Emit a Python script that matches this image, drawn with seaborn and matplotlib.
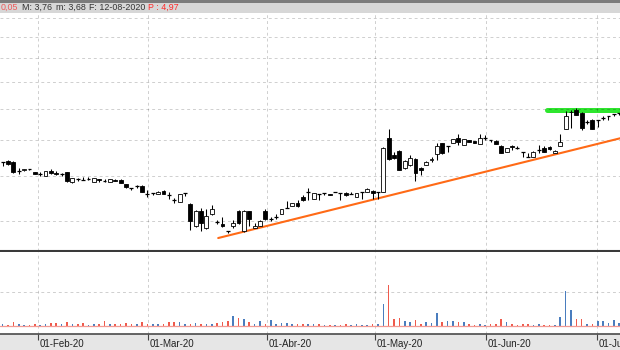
import numpy as np
import matplotlib
matplotlib.use("Agg")
import matplotlib.pyplot as plt
import seaborn as sns

# ---------------- data ----------------
opens = [2.68, 2.70, 2.68, 2.57, 2.575, 2.585, 2.545, 2.53, 2.505, 2.565,
         2.535, 2.52, 2.545, 2.425, 2.462, 2.453, 2.46, 2.432, 2.466, 2.445,
         2.432, 2.453, 2.453, 2.40, 2.354, 2.384, 2.381, 2.288, 2.295, 2.288,
         2.322, 2.277, 2.213, 2.196, 2.297, 2.174, 1.944, 2.095, 1.928, 2.071,
         1.987, 1.967, 1.905, 1.951, 2.102, 1.897, 2.095, 1.928, 1.951, 2.105,
         2.017, 2.033, 2.068, 2.13, 2.155, 2.185, 2.257, 2.311, 2.232, 2.288,
         2.295, 2.282, 2.307, 2.303, 2.303, 2.288, 2.257, 2.307, 2.307, 2.326,
         2.314, 2.314, 3.02, 2.779, 2.839, 2.60, 2.644, 2.72, 2.598, 2.644,
         2.703, 2.789, 2.946, 2.906, 2.955, 3.03, 2.921, 2.994, 2.98, 2.931,
         3.02, 2.994, 2.98, 2.906, 2.817, 2.906, 2.882, 2.825, 2.755, 2.747,
         2.849, 2.873, 2.896, 2.803, 2.91, 3.158, 3.44, 3.477, 3.42, 3.27,
         3.308, 3.308, 3.346, 3.38, 3.404, 3.426]
highs = [2.68, 2.71, 2.69, 2.60, 2.595, 2.59, 2.55, 2.55, 2.57, 2.59,
         2.565, 2.54, 2.553, 2.48, 2.478, 2.49, 2.49, 2.478, 2.466, 2.466,
         2.466, 2.459, 2.459, 2.405, 2.354, 2.386, 2.393, 2.334, 2.297, 2.316,
         2.328, 2.314, 2.243, 2.288, 2.299, 2.183, 2.113, 2.13, 2.123, 2.16,
         2.01, 2.033, 1.905, 2.01, 2.113, 2.113, 2.102, 1.977, 2.005, 2.12,
         2.04, 2.071, 2.123, 2.202, 2.188, 2.213, 2.277, 2.354, 2.299, 2.288,
         2.295, 2.284, 2.309, 2.303, 2.311, 2.311, 2.299, 2.307, 2.357, 2.334,
         2.314, 2.892, 3.16, 2.821, 2.849, 2.71, 2.779, 2.737, 2.62, 2.697,
         2.747, 2.943, 2.95, 2.906, 3.009, 3.085, 3.009, 2.994, 2.98, 3.085,
         3.07, 2.994, 2.987, 2.913, 2.877, 2.921, 2.906, 2.825, 2.803, 2.828,
         2.921, 2.906, 2.906, 2.842, 3.08, 3.46, 3.477, 3.516, 3.443, 3.308,
         3.325, 3.308, 3.375, 3.38, 3.404, 3.426]
lows = [2.63, 2.64, 2.54, 2.53, 2.57, 2.58, 2.525, 2.50, 2.50, 2.53,
        2.515, 2.50, 2.425, 2.42, 2.441, 2.453, 2.455, 2.43, 2.429, 2.429,
        2.429, 2.436, 2.41, 2.357, 2.334, 2.354, 2.311, 2.257, 2.277, 2.283,
        2.283, 2.229, 2.188, 2.194, 2.265, 1.912, 1.94, 1.903, 1.922, 2.061,
        1.97, 1.941, 1.881, 1.93, 1.97, 1.893, 1.944, 1.926, 1.946, 2.01,
        2.00, 2.02, 2.066, 2.13, 2.15, 2.142, 2.202, 2.221, 2.226, 2.221,
        2.277, 2.27, 2.305, 2.221, 2.265, 2.288, 2.254, 2.225, 2.305, 2.232,
        2.232, 2.311, 2.71, 2.724, 2.572, 2.592, 2.631, 2.441, 2.515, 2.637,
        2.687, 2.71, 2.793, 2.825, 2.95, 2.921, 2.914, 2.957, 2.943, 2.928,
        2.994, 2.965, 2.928, 2.807, 2.814, 2.849, 2.863, 2.755, 2.755, 2.744,
        2.803, 2.814, 2.849, 2.80, 2.906, 3.155, 3.17, 3.383, 3.147, 3.243,
        3.155, 3.20, 3.308, 3.308, 3.375, 3.392]
closes = [2.68, 2.66, 2.55, 2.57, 2.59, 2.585, 2.53, 2.53, 2.565, 2.535,
          2.52, 2.52, 2.445, 2.478, 2.462, 2.453, 2.46, 2.474, 2.453, 2.445,
          2.462, 2.441, 2.413, 2.365, 2.354, 2.384, 2.314, 2.288, 2.295, 2.311,
          2.288, 2.277, 2.213, 2.285, 2.297, 1.993, 2.102, 1.977, 2.05, 2.12,
          1.987, 1.951, 1.905, 1.977, 1.977, 2.102, 2.017, 1.951, 2.00, 2.017,
          2.017, 2.033, 2.12, 2.13, 2.185, 2.155, 2.221, 2.311, 2.295, 2.288,
          2.295, 2.271, 2.307, 2.303, 2.27, 2.288, 2.295, 2.307, 2.346, 2.295,
          2.314, 2.881, 2.72, 2.733, 2.579, 2.70, 2.733, 2.536, 2.579, 2.687,
          2.72, 2.91, 2.803, 2.906, 3.005, 2.97, 3.005, 2.96, 2.946, 3.02,
          3.02, 2.994, 2.935, 2.811, 2.873, 2.885, 2.882, 2.825, 2.755, 2.825,
          2.849, 2.817, 2.863, 2.835, 2.969, 3.38, 3.45, 3.392, 3.17, 3.27,
          3.163, 3.308, 3.346, 3.38, 3.404, 3.426]
volumes = [20, 15, 45, 20, 15, 12, 18, 15, 22, 28,
           28, 26, 38, 20, 18, 28, 15, 20, 18, 52,
           22, 18, 20, 28, 18, 20, 45, 25, 18, 20,
           22, 38, 38, 38, 20, 22, 28, 20, 25, 18,
           32, 45, 55, 105, 86, 72, 45, 18, 48, 25,
           62, 20, 28, 36, 18, 22, 20, 25, 20, 22,
           15, 15, 12, 15, 20, 15, 18, 12, 15, 18,
           20, 224, 425, 72, 82, 48, 41, 62, 24, 38,
           32, 131, 38, 48, 55, 45, 40, 20, 15, 18,
           15, 25, 18, 72, 45, 25, 15, 22, 25, 15,
           18, 15, 12, 15, 96, 362, 165, 72, 72, 22,
           22, 52, 55, 30, 62, 28]

month_labels = ["01-Feb-20", "01-Mar-20", "01-Abr-20", "01-May-20", "01-Jun-20", "01-Jul-20"]
month_tick_idx = [6.6, 27.1, 49.3, 69.5, 90.2, 110.9]
price_grid = [2.0, 2.5, 3.0, 3.5, 4.0, 4.5, 5.0, 5.5]
volume_grid = [350]
trend_idx = [40.2, 116.0]
trend_price = [1.835, 3.035]
resist_idx = [101.5, 116.0]
resist_price = [3.47, 3.47]
header_texts = ["0,05", "M: 3,76", "m: 3,68", "F: 12-08-2020", "P : 4,97"]
header_colors = ["#ee5a5a", "#333333", "#333333", "#333333", "#ff2a2a"]
header_x = [0.5, 22, 56, 89, 148]

# ---------------- style ----------------
sns.set_theme(style="white")
plt.rcParams["font.family"] = ["Liberation Sans", "DejaVu Sans"]

W, H = 620, 350
fig = plt.figure(figsize=(W / 100, H / 100), dpi=100)
fig.patch.set_facecolor("white")


def rect(top, bottom):
    return [0, 1 - bottom / H, 1, (bottom - top) / H]


ax_h = fig.add_axes(rect(0, 13))
ax_p = fig.add_axes(rect(13, 251))
ax_v = fig.add_axes(rect(252, 334))
ax_b = fig.add_axes(rect(334, 350))

XL = (-0.5, 115.15)
grid_kw = dict(color="black", alpha=0.19, lw=0.7, ls=(0, (3, 3)), zorder=2)

# ---------------- header ----------------
ax_h.set_xlim(0, W)
ax_h.set_ylim(0, 13)
ax_h.set_facecolor("#d7d7d7")
ax_h.axhspan(10.4, 13, color="#7c7c7c", lw=0)
for t, col, x in zip(header_texts, header_colors, header_x):
    ax_h.text(x, 5.3, t, color=col, fontsize=6.4, ha="left", va="center")
ax_h.set_xticks([]); ax_h.set_yticks([])
for s in ax_h.spines.values():
    s.set_visible(False)

# ---------------- price panel ----------------
o = np.array(opens); h = np.array(highs); l = np.array(lows); c = np.array(closes)
idx = np.arange(len(o))
ax_p.set_yscale("log")
ax_p.set_xlim(*XL)
ax_p.set_ylim(1.72, 5.64)

for p in price_grid:
    ax_p.axhline(p, **grid_kw)
for t in month_tick_idx:
    ax_p.axvline(t, **grid_kw)

sns.lineplot(x=resist_idx, y=resist_price, ax=ax_p, color="#2ee62e", lw=3.6,
             zorder=1.5, legend=False)
sns.lineplot(x=trend_idx, y=trend_price, ax=ax_p, color="#ff6a16", lw=1.5,
             zorder=2.5, legend=False)

body_w = 0.72
ax_p.vlines(idx, l, h, color="black", lw=0.75, zorder=3)
flat = c == o
up = c > o
bot = np.minimum(o, c)
top = np.maximum(o, c)
nf = ~flat
ax_p.bar(idx[nf], (top - bot)[nf], bottom=bot[nf], width=body_w,
         color=np.where(up, "white", "black")[nf], edgecolor="black",
         linewidth=0.6, zorder=4)
ax_p.hlines(o[flat], idx[flat] - body_w / 2, idx[flat] + body_w / 2,
            color="black", lw=0.9, zorder=4)

ax_p.set_xticks([]); ax_p.set_yticks([])
ax_p.yaxis.set_minor_locator(matplotlib.ticker.NullLocator())
for name, s in ax_p.spines.items():
    s.set_visible(name == "bottom")
ax_p.spines["bottom"].set_color("#3a3a3a")
ax_p.spines["bottom"].set_linewidth(1.5)
ax_p.set_xlabel(""); ax_p.set_ylabel("")

# ---------------- volume panel ----------------
prev_c = np.concatenate([[c[0]], c[:-1]])
dirs = np.where(c > o, "up", np.where(c < o, "down",
                np.where(c >= prev_c, "up", "down")))
for gv in volume_grid:
    ax_v.axhline(gv, **grid_kw)
for t in month_tick_idx:
    ax_v.axvline(t, **grid_kw)
sns.barplot(x=idx, y=volumes, hue=dirs, palette={"up": "#4a7dbe", "down": "#ef5a4c"},
            native_scale=True, dodge=False, width=0.3, legend=False,
            errorbar=None, saturation=1, ax=ax_v, zorder=3, linewidth=0)
ax_v.axhline(0, color="#f29a94", lw=0.9, zorder=3.5)
ax_v.set_xlim(*XL)
ax_v.set_ylim(-82, 762)
ax_v.set_xticks([]); ax_v.set_yticks([])
ax_v.set_xlabel(""); ax_v.set_ylabel("")
for s in ax_v.spines.values():
    s.set_visible(False)

# ---------------- bottom date axis ----------------
ax_b.set_xlim(*XL)
ax_b.set_ylim(0, 16)
ax_b.set_facecolor("#e6e6e6")
ax_b.vlines(month_tick_idx, 10, 16, color="#444444", lw=0.8)
for t, lab in zip(month_tick_idx, month_labels):
    ax_b.text(t + 0.3, 6.2, lab, ha="left", va="center", fontsize=7, color="#222222")
ax_b.set_xticks([]); ax_b.set_yticks([])
for name, s in ax_b.spines.items():
    s.set_visible(name == "top")
ax_b.spines["top"].set_color("#4a4a4a")
ax_b.spines["top"].set_linewidth(1.2)

fig.savefig("out.png", dpi=100)
